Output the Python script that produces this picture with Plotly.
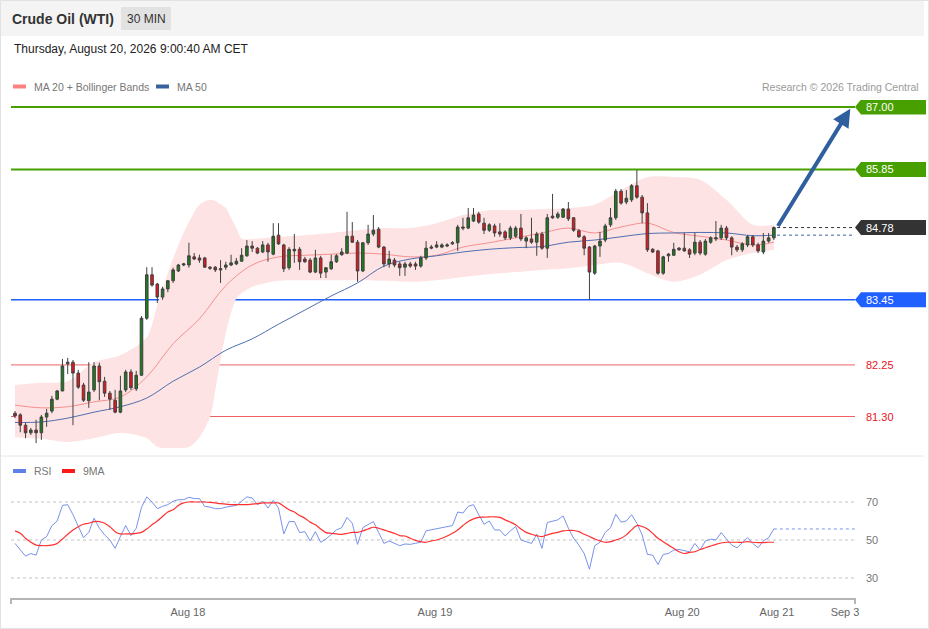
import plotly.graph_objects as go

# 30 min candles, oldest first (index 0 .. 144)
open_ = [81.36, 81.33, 81.14, 81.00, 81.05, 81.00, 81.29, 81.40, 81.62, 81.77,
         82.27, 82.30, 82.10, 81.88, 81.59, 81.79, 82.23, 81.95, 81.73, 81.60,
         81.38, 81.79, 82.12, 81.81, 82.06, 83.11, 83.91, 83.74, 83.50, 83.65,
         83.80, 83.98, 84.09, 84.09, 84.24, 84.22, 84.22, 84.05, 84.05, 84.00,
         84.05, 84.09, 84.11, 84.16, 84.26, 84.44, 84.40, 84.33, 84.46, 84.29,
         84.64, 84.46, 84.04, 84.35, 84.38, 84.20, 84.18, 83.96, 84.22, 83.96,
         84.02, 84.15, 84.28, 84.31, 84.62, 84.51, 83.98, 84.50, 84.66, 84.75,
         84.42, 84.11, 84.18, 84.11, 84.05, 84.11, 84.11, 84.07, 84.22, 84.40,
         84.42, 84.42, 84.44, 84.48, 84.50, 84.79, 84.77, 84.90, 85.03, 84.86,
         84.73, 84.81, 84.70, 84.70, 84.59, 84.62, 84.77, 84.53, 84.57, 84.51,
         84.66, 84.40, 84.99, 84.97, 84.97, 85.12, 84.96, 84.72, 84.61, 84.42,
         83.94, 84.44, 84.55, 84.83, 84.96, 85.45, 85.25, 85.29, 85.55, 85.34,
         85.05, 84.38, 84.35, 83.94, 84.26, 84.27, 84.37, 84.40, 84.37, 84.31,
         84.51, 84.29, 84.51, 84.57, 84.59, 84.77, 84.59, 84.42, 84.37, 84.46,
         84.61, 84.46, 84.33, 84.53, 84.59]
high = [81.40, 81.36, 81.18, 81.09, 81.24, 81.33, 81.44, 81.68, 81.79, 82.36,
        82.38, 82.34, 82.16, 81.92, 82.30, 82.30, 82.29, 82.03, 81.77, 81.79,
        82.05, 82.16, 82.17, 82.14, 83.15, 84.05, 84.05, 83.76, 83.69, 83.81,
        84.04, 84.11, 84.13, 84.50, 84.31, 84.28, 84.24, 84.07, 84.07, 84.18,
        84.15, 84.28, 84.22, 84.40, 84.55, 84.53, 84.42, 84.53, 84.50, 84.86,
        84.86, 84.48, 84.42, 84.66, 84.42, 84.24, 84.22, 84.37, 84.26, 84.05,
        84.28, 84.29, 84.40, 85.07, 84.88, 84.55, 84.51, 84.83, 85.01, 84.79,
        84.44, 84.35, 84.22, 84.15, 84.15, 84.15, 84.15, 84.26, 84.53, 84.46,
        84.53, 84.49, 84.49, 84.53, 84.83, 84.96, 85.14, 85.14, 85.07, 84.96,
        84.86, 84.85, 84.86, 84.73, 84.81, 84.81, 85.03, 84.62, 84.96, 84.70,
        84.70, 85.03, 85.40, 85.07, 85.14, 85.25, 84.97, 84.75, 84.64, 84.44,
        84.46, 84.70, 84.85, 85.14, 85.49, 85.49, 85.47, 85.58, 85.84, 85.38,
        85.23, 84.40, 84.37, 84.26, 84.31, 84.50, 84.42, 84.68, 84.40, 84.68,
        84.55, 84.57, 84.62, 84.90, 84.83, 84.81, 84.62, 84.46, 84.51, 84.64,
        84.64, 84.50, 84.68, 84.68, 84.80]
low = [81.27, 81.01, 80.90, 80.96, 80.81, 80.87, 81.11, 81.36, 81.60, 81.77,
       82.08, 81.14, 81.81, 81.57, 81.46, 81.75, 81.60, 81.66, 81.42, 81.36,
       81.36, 81.75, 81.79, 81.77, 82.05, 83.08, 83.69, 83.39, 83.45, 83.59,
       83.76, 83.96, 84.07, 84.04, 84.18, 84.13, 84.04, 84.00, 83.96, 83.76,
       84.00, 84.07, 84.09, 84.15, 84.24, 84.33, 84.29, 84.31, 84.15, 84.27,
       84.46, 83.96, 84.00, 84.13, 84.00, 84.13, 83.94, 83.94, 83.85, 83.85,
       84.00, 84.13, 84.26, 84.29, 84.50, 83.78, 83.96, 84.46, 84.62, 84.40,
       84.05, 84.04, 84.05, 83.89, 83.89, 84.04, 84.00, 84.04, 84.18, 84.38,
       84.40, 84.40, 84.42, 84.46, 84.35, 84.73, 84.75, 84.88, 84.85, 84.66,
       84.70, 84.61, 84.61, 84.55, 84.55, 84.59, 84.53, 84.40, 84.48, 84.26,
       84.37, 84.22, 84.94, 84.94, 84.96, 84.90, 84.70, 84.59, 84.27, 83.45,
       83.91, 84.24, 84.51, 84.79, 84.92, 85.20, 85.21, 85.25, 85.31, 84.86,
       84.33, 84.31, 83.91, 83.91, 84.15, 84.26, 84.35, 84.33, 84.22, 84.27,
       84.27, 84.26, 84.48, 84.53, 84.55, 84.55, 84.27, 84.33, 84.33, 84.42,
       84.42, 84.31, 84.29, 84.50, 84.55]
close = [81.31, 81.14, 81.00, 81.05, 81.00, 81.29, 81.36, 81.62, 81.77, 82.23,
         82.30, 82.10, 81.84, 81.60, 81.75, 82.23, 81.94, 81.73, 81.62, 81.38,
         81.77, 82.12, 81.83, 82.06, 83.11, 83.91, 83.72, 83.50, 83.65, 83.80,
         84.00, 84.09, 84.11, 84.26, 84.20, 84.18, 84.05, 84.03, 84.00, 84.02,
         84.09, 84.13, 84.16, 84.27, 84.44, 84.40, 84.31, 84.46, 84.33, 84.62,
         84.48, 84.02, 84.38, 84.38, 84.15, 84.15, 83.96, 84.22, 83.94, 84.04,
         84.15, 84.26, 84.33, 84.62, 84.51, 83.98, 84.50, 84.66, 84.73, 84.42,
         84.11, 84.20, 84.09, 84.04, 84.11, 84.07, 84.07, 84.22, 84.40, 84.42,
         84.46, 84.46, 84.46, 84.50, 84.79, 84.77, 84.96, 85.01, 84.88, 84.73,
         84.83, 84.68, 84.66, 84.59, 84.77, 84.77, 84.57, 84.59, 84.51, 84.66,
         84.40, 84.96, 84.96, 85.03, 85.12, 84.94, 84.73, 84.61, 84.40, 83.96,
         84.44, 84.53, 84.81, 84.96, 85.45, 85.23, 85.32, 85.55, 85.34, 85.05,
         84.37, 84.33, 83.94, 84.24, 84.29, 84.38, 84.40, 84.35, 84.29, 84.51,
         84.31, 84.53, 84.59, 84.59, 84.77, 84.59, 84.42, 84.37, 84.48, 84.61,
         84.46, 84.35, 84.53, 84.59, 84.78]

# Bollinger bands (20) read at a few bar positions
bb_idx = [0, 5, 10, 15, 20, 25, 27, 29, 31, 33, 35, 37, 38, 39, 40, 41, 42, 43, 45,
          50, 55, 60, 65, 70, 75, 80, 85, 90, 95, 100, 105, 110, 115, 120, 125,
          130, 135, 140, 144]
bb_upper = [81.88, 81.92, 81.95, 82.30, 82.43, 82.76, 83.35, 83.94, 84.46, 84.88,
            85.20, 85.29, 85.27, 85.21, 85.14, 84.96, 84.77, 84.58, 84.57,
            84.61, 84.64, 84.68, 84.73, 84.77, 84.77, 84.86, 85.01, 85.10, 85.10,
            85.12, 85.14, 85.20, 85.47, 85.71, 85.71, 85.66, 85.29, 84.83, 84.83]
bb_lower = [80.92, 80.89, 80.83, 80.90, 81.00, 80.90, 80.74, 80.72, 80.72, 80.74,
            80.92, 81.29, 81.79, 82.34, 82.84, 83.21, 83.48, 83.57, 83.69,
            83.80, 83.81, 83.81, 83.81, 83.80, 83.78, 83.81, 83.87, 83.92, 83.96,
            84.00, 84.03, 84.09, 84.13, 83.94, 83.78, 83.91, 84.18, 84.31, 84.37]

# moving averages read every 5 bars
ma_idx = [0, 5, 10, 15, 20, 25, 30, 35, 40, 45, 50, 55, 60, 65, 70, 75, 80, 85,
          90, 95, 100, 105, 110, 115, 120, 125, 130, 135, 140, 144]
ma20 = [81.51, 81.46, 81.48, 81.57, 81.66, 82.03, 82.64, 83.10, 83.71, 84.09,
        84.24, 84.27, 84.29, 84.31, 84.29, 84.24, 84.27, 84.42, 84.50, 84.59,
        84.68, 84.77, 84.68, 84.79, 84.86, 84.69, 84.62, 84.55, 84.46, 84.51]
ma50 = [81.19, 81.20, 81.27, 81.38, 81.48, 81.64, 81.95, 82.21, 82.52, 82.73,
        83.00, 83.26, 83.52, 83.76, 84.07, 84.20, 84.26, 84.33, 84.38, 84.41,
        84.43, 84.51, 84.55, 84.61, 84.67, 84.68, 84.69, 84.68, 84.63, 84.64]

rsi = [48.2, 44.7, 41.5, 42.9, 42.0, 50.0, 51.8, 57.6, 60.0, 68.2,
       68.6, 63.3, 57.0, 51.2, 54.0, 61.5, 56.2, 52.7, 50.0, 45.6,
       51.8, 57.6, 52.3, 56.2, 67.2, 72.7, 70.0, 66.5, 67.7, 68.6,
       70.4, 71.2, 71.2, 72.5, 71.8, 71.8, 67.7, 67.3, 66.5, 66.5,
       67.3, 67.7, 68.2, 70.4, 72.7, 72.1, 68.6, 70.4, 66.8, 70.9,
       66.8, 53.2, 59.7, 59.7, 53.9, 54.4, 49.5, 54.4, 48.8, 50.5,
       53.0, 55.3, 56.5, 61.9, 58.8, 47.7, 56.5, 58.3, 59.7, 54.0,
       48.2, 49.5, 48.2, 47.0, 47.9, 47.7, 48.3, 48.8, 54.8, 55.3,
       55.8, 56.5, 56.7, 57.6, 64.7, 64.2, 67.7, 68.6, 63.3, 58.3,
       60.0, 55.3, 55.3, 52.1, 54.8, 57.1, 50.0, 49.1, 48.2, 53.0,
       45.6, 59.2, 60.0, 60.6, 62.7, 56.2, 50.9, 47.3, 42.9, 34.6,
       47.0, 48.8, 54.0, 56.5, 63.6, 59.4, 60.0, 63.3, 58.8, 52.7,
       42.4, 42.0, 37.1, 42.4, 42.9, 44.7, 45.0, 44.2, 43.8, 48.2,
       44.7, 49.5, 50.4, 50.0, 53.9, 50.5, 47.3, 45.9, 48.8, 51.2,
       48.2, 45.9, 49.5, 51.2, 55.8]
rsi_ma9 = [54.8, 53.5, 50.9, 48.8, 47.3, 47.0, 47.0, 47.3, 48.2, 50.5,
           53.0, 55.3, 57.0, 58.3, 58.8, 59.7, 59.7, 58.8, 57.0, 54.4,
           53.2, 53.2, 53.2, 53.5, 54.0, 55.8, 58.0, 60.0, 62.4, 64.7,
           65.9, 68.2, 69.5, 70.0, 70.0, 70.0, 70.0, 69.8, 69.5, 69.1,
           68.9, 68.6, 68.6, 68.6, 68.6, 68.9, 69.1, 69.5, 69.5, 69.5,
           69.5, 67.7, 65.9, 64.7, 62.9, 61.5, 59.4, 58.0, 55.8, 53.9,
           53.5, 53.2, 53.0, 53.5, 54.0, 54.0, 54.8, 55.8, 56.7, 56.2,
           55.3, 54.4, 53.5, 52.3, 52.1, 50.9, 49.8, 49.1, 48.8, 49.5,
           50.0, 50.9, 52.1, 53.5, 55.3, 57.6, 59.7, 61.1, 61.9, 62.0,
           62.2, 62.2, 61.9, 60.6, 59.4, 58.0, 55.8, 54.0, 53.0, 52.3,
           51.8, 52.7, 53.5, 54.0, 54.8, 55.0, 55.0, 54.4, 53.0, 51.8,
           50.5, 49.5, 48.8, 49.1, 50.0, 50.9, 52.7, 55.3, 57.6, 57.1,
           55.8, 53.5, 50.9, 49.1, 47.3, 45.6, 43.8, 42.9, 43.5, 43.8,
           45.0, 45.9, 46.8, 47.7, 48.4, 48.8, 48.8, 48.8, 48.8, 49.1,
           48.8, 48.6, 48.6, 48.8, 48.8]

# resistance / support levels shown on the right
levels = [87.00, 85.85, 83.45, 82.25, 81.30]
level_colors = ["#48a000", "#48a000", "#1f60ff", "#f06060", "#f06060"]
level_widths = [2, 2, 1.5, 1, 1]
level_boxed = [True, True, True, False, False]
target = 87.00

tick_pos = [32.8, 79.7, 126.6, 144.6, 157.5]
tick_text = ["Aug 18", "Aug 19", "Aug 20", "Aug 21", "Sep 3"]
rsi_lines = [70, 50, 30]

# the page width the browser really gives the figure is a few px short of 929
W, H = 924, 629
FONT = "Liberation Sans, Arial, sans-serif"


def px(x):
    return x / W


def py(y):
    return 1 - y / H


X_RANGE = [-0.76, 159.39]
Y_RANGE = [80.591, 87.129]
PRICE_TOP, PRICE_BOT = 100, 455
RSI_RANGE = [19.47, 92.1]
RSI_TOP, RSI_BOT = 460, 598
PLOT_L, PLOT_R = 11, 855

n = len(close)
idx = list(range(n))
unit = (Y_RANGE[1] - Y_RANGE[0]) / (PRICE_BOT - PRICE_TOP)  # price per pixel

fig = go.Figure()

fig.add_trace(go.Scatter(x=bb_idx, y=bb_upper, mode="lines", line=dict(width=0, shape="spline", smoothing=0.8),
                         hoverinfo="skip", showlegend=False))
fig.add_trace(go.Scatter(x=bb_idx, y=bb_lower, mode="lines", line=dict(width=0, shape="spline", smoothing=0.8),
                         fill="tonexty", fillcolor="#fde3e3", hoverinfo="skip", showlegend=False))
fig.add_trace(go.Scatter(x=ma_idx, y=ma20, mode="lines", line=dict(color="#f59090", width=1, shape="spline"),
                         hoverinfo="skip", showlegend=False))
fig.add_trace(go.Scatter(x=ma_idx, y=ma50, mode="lines", line=dict(color="#4f6fb0", width=1, shape="spline"),
                         hoverinfo="skip", showlegend=False))

# dotted lines from the last bar to the price labels
fig.add_trace(go.Scatter(x=[n - 0.4, X_RANGE[1]], y=[close[-1], close[-1]], mode="lines",
                         line=dict(color="#333333", width=1, dash="dot"), hoverinfo="skip", showlegend=False))
fig.add_trace(go.Scatter(x=[n - 0.4, X_RANGE[1]], y=[ma50[-1], ma50[-1]], mode="lines",
                         line=dict(color="#3a5fa0", width=1, dash="dot"), hoverinfo="skip", showlegend=False))

# candles go on an overlaying axis so they sit above the band fill
fig.add_trace(go.Candlestick(
    x=idx, open=open_, high=high, low=low, close=close, yaxis="y3",
    increasing=dict(line=dict(color="#404040", width=1), fillcolor="#1b7d1b"),
    decreasing=dict(line=dict(color="#404040", width=1), fillcolor="#e8141c"),
    whiskerwidth=0, showlegend=False, hoverinfo="skip"))

# RSI pane
fig.add_trace(go.Scatter(x=idx, y=rsi, mode="lines", line=dict(color="#7892ec", width=1),
                         xaxis="x2", yaxis="y2", hoverinfo="skip", showlegend=False))
fig.add_trace(go.Scatter(x=idx, y=rsi_ma9, mode="lines", line=dict(color="#ff3030", width=1.2, shape="spline"),
                         xaxis="x2", yaxis="y2", hoverinfo="skip", showlegend=False))
fig.add_trace(go.Scatter(x=[n - 1, X_RANGE[1]], y=[rsi[-1], rsi[-1]], mode="lines",
                         line=dict(color="#7892ec", width=1, dash="dot"),
                         xaxis="x2", yaxis="y2", hoverinfo="skip", showlegend=False))

shapes = []
annotations = []

# page frame, header band and pane separator
shapes.append(dict(type="rect", xref="paper", yref="paper", x0=0, x1=1, y0=py(36), y1=1,
                   fillcolor="#f4f4f4", line=dict(width=0), layer="below"))
shapes.append(dict(type="line", xref="paper", yref="paper", x0=0, x1=1, y0=py(456), y1=py(456),
                   line=dict(color="#e6e6e6", width=1)))
shapes.append(dict(type="rect", xref="paper", yref="paper", x0=px(0.5), x1=px(928.5), y0=py(628.5), y1=py(0.5),
                   line=dict(color="#e2e2e2", width=1)))

# level lines with their labels
for lv, col, lw, boxed in zip(levels, level_colors, level_widths, level_boxed):
    shapes.append(dict(type="line", xref="x domain", yref="y", x0=0, x1=1, y0=lv, y1=lv,
                       line=dict(color=col, width=lw), layer="below"))
    if boxed:
        h = 7.5 * unit
        path = (f"M {px(855)},{lv} L {px(861)},{lv + h} L {px(926)},{lv + h} "
                f"L {px(926)},{lv - h} L {px(861)},{lv - h} Z")
        shapes.append(dict(type="path", xref="paper", yref="y", path=path, fillcolor=col, line=dict(width=0)))
        annotations.append(dict(xref="paper", yref="y", x=px(864), y=lv, text=f"{lv:.2f}", showarrow=False,
                                xanchor="left", yanchor="middle", font=dict(color="white", size=11)))
    else:
        annotations.append(dict(xref="paper", yref="y", x=px(864), y=lv, text=f"{lv:.2f}", showarrow=False,
                                xanchor="left", yanchor="middle", font=dict(color="#e8141c", size=11)))

# last price label
h = 7.5 * unit
lp = close[-1]
path = (f"M {px(855)},{lp} L {px(861)},{lp + h} L {px(926)},{lp + h} "
        f"L {px(926)},{lp - h} L {px(861)},{lp - h} Z")
shapes.append(dict(type="path", xref="paper", yref="y", path=path, fillcolor="#333333", line=dict(width=0)))
annotations.append(dict(xref="paper", yref="y", x=px(864), y=lp, text=f"{lp:.2f}", showarrow=False,
                        xanchor="left", yanchor="middle", font=dict(color="white", size=11)))

# target arrow
annotations.append(dict(xref="x", yref="y", axref="x", ayref="y", x=158.5, y=target - 0.03,
                        ax=n - 0.4, ay=close[-1], text="", showarrow=True, arrowhead=2,
                        arrowsize=0.9, arrowwidth=4, arrowcolor="#2f5f9e"))

# RSI guide lines
for r in rsi_lines:
    shapes.append(dict(type="line", xref="x2 domain", yref="y2", x0=0, x1=1, y0=r, y1=r,
                       line=dict(color="#c4c4c4", width=1, dash="dot"), layer="below"))
    annotations.append(dict(xref="paper", yref="y2", x=px(864), y=r, text=str(r), showarrow=False,
                            xanchor="left", yanchor="middle", font=dict(color="#777777", size=11)))

# end ticks of the time axis
for xe in (PLOT_L, PLOT_R):
    shapes.append(dict(type="line", xref="paper", yref="paper", x0=px(xe), x1=px(xe),
                       y0=py(598), y1=py(604), line=dict(color="#b5b5b5", width=2)))

# header texts
shapes.append(dict(type="rect", xref="paper", yref="paper", x0=px(121), x1=px(171), y0=py(30), y1=py(7),
                   fillcolor="#e2e2e2", line=dict(width=0)))
annotations.append(dict(xref="paper", yref="paper", x=px(10), y=py(18.5), text="<b>Crude Oil (WTI)</b>",
                        showarrow=False, xanchor="left", yanchor="middle", font=dict(size=14, color="#333333")))
annotations.append(dict(xref="paper", yref="paper", x=px(146), y=py(18.5), text="30 MIN",
                        showarrow=False, xanchor="center", yanchor="middle", font=dict(size=12, color="#333333")))
annotations.append(dict(xref="paper", yref="paper", x=px(12), y=py(48.5),
                        text="Thursday, August 20, 2026 9:00:40 AM CET",
                        showarrow=False, xanchor="left", yanchor="middle", font=dict(size=12, color="#222222")))
annotations.append(dict(xref="paper", yref="paper", x=px(921), y=py(86.5),
                        text="Research © 2026 Trading Central",
                        showarrow=False, xanchor="right", yanchor="middle", font=dict(size=10.5, color="#9a9a9a")))

# legends
legend_items = [(13, 86.5, "#ff8080", "MA 20 + Bollinger Bands"), (156, 86.5, "#3a60a0", "MA 50"),
                (13, 471, "#5f80e6", "RSI"), (62, 471, "#ff1a1a", "9MA")]
for lx, ly, col, txt in legend_items:
    shapes.append(dict(type="rect", xref="paper", yref="paper", x0=px(lx), x1=px(lx + 13),
                       y0=py(ly + 2), y1=py(ly - 2), fillcolor=col, line=dict(width=0)))
    annotations.append(dict(xref="paper", yref="paper", x=px(lx + 19), y=py(ly), text=txt, showarrow=False,
                            xanchor="left", yanchor="middle", font=dict(size=10.5, color="#777777")))

fig.update_layout(
    autosize=True,
    margin=dict(l=0, r=0, t=0, b=0),
    paper_bgcolor="white", plot_bgcolor="white",
    font=dict(family=FONT),
    showlegend=False,
    shapes=shapes,
    annotations=annotations,
    xaxis=dict(domain=[px(PLOT_L), px(PLOT_R)], range=X_RANGE, anchor="y",
               showticklabels=False, showgrid=False, zeroline=False, showline=False,
               rangeslider=dict(visible=False)),
    yaxis=dict(domain=[py(PRICE_BOT), py(PRICE_TOP)], range=Y_RANGE, anchor="x",
               showticklabels=False, showgrid=False, zeroline=False),
    yaxis3=dict(range=Y_RANGE, overlaying="y", anchor="x",
                showticklabels=False, showgrid=False, zeroline=False),
    xaxis2=dict(domain=[px(PLOT_L), px(PLOT_R)], range=X_RANGE, anchor="y2", matches="x",
                tickvals=tick_pos, ticktext=tick_text, tickfont=dict(size=11, color="#666666"),
                showline=True, linecolor="#b5b5b5", linewidth=2, ticks="", ticklabelstandoff=3,
                showgrid=False, zeroline=False),
    yaxis2=dict(domain=[py(RSI_BOT), py(RSI_TOP)], range=RSI_RANGE, anchor="x2",
                showticklabels=False, showgrid=False, zeroline=False),
)

# let the figure fill the browser window
fit_page = ("document.documentElement.style.height='100%';"
            "document.body.style.height='100%';"
            "document.body.style.margin='0';"
            "document.body.style.overflow='hidden';"
            "var gd=document.getElementById('{plot_id}');"
            "gd.style.width='100%';gd.style.height='100%';"
            "Plotly.Plots.resize(gd);")
fig.write_html("out.html", config={"displayModeBar": False, "responsive": True},
               default_width="100%", default_height="100%", post_script=fit_page)
